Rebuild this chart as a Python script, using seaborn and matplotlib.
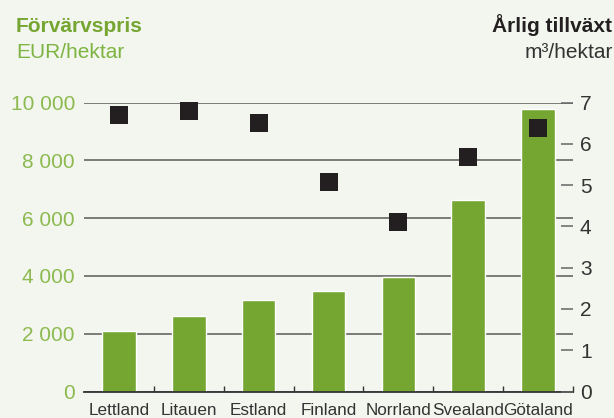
import matplotlib
matplotlib.use("Agg")
import matplotlib.pyplot as plt
import seaborn as sns
import pandas as pd
import numpy as np
from matplotlib.ticker import FuncFormatter, FixedLocator

# data
regions = ["Lettland", "Litauen", "Estland", "Finland", "Norrland", "Svealand", "Götaland"]
price_eur = [2080, 2600, 3160, 3480, 3970, 6630, 9780]      # EUR/hektar (bars)
growth_m3 = [6.70, 6.80, 6.51, 5.07, 4.10, 5.68, 6.39]      # m3/hektar (squares)
left_ticks = [0, 2000, 4000, 6000, 8000, 10000]
right_ticks = [0, 1, 2, 3, 4, 5, 6, 7]

bg = "#f3f6ee"
green = "#76a632"
label_green = "#8cba50"
dark = "#231f20"

sns.set_theme(style="white")
plt.rcParams["font.family"] = ["Liberation Sans", "DejaVu Sans"]

df = pd.DataFrame({"region": regions, "price": price_eur, "growth": growth_m3})

fig = plt.figure(figsize=(6.14, 4.18), dpi=100, facecolor=bg)
ax = fig.add_axes([84 / 614, 1 - 391.5 / 418, (573 - 84) / 614, (391.5 - 102.7) / 418])
ax.set_facecolor(bg)

sns.barplot(data=df, x="region", y="price", color=green, width=0.48,
            saturation=1, ax=ax, zorder=2)
ax.set_xlim(-0.5, 6.5)
ax.set_ylim(0, 10000)
ax.set_xlabel("")
ax.set_ylabel("")

# horizontal lines behind bars
ax.set_axisbelow(True)
ax.yaxis.set_major_locator(FixedLocator(left_ticks))
ax.grid(axis="y", color="#5a5a5a", linewidth=1.1)
ax.grid(axis="x", visible=False)
ax.yaxis.set_major_formatter(FuncFormatter(lambda v, p: f"{int(v):,}".replace(",", " ")))
ax.tick_params(axis="y", length=0, pad=6.5, labelsize=15, labelcolor=label_green)

# small ticks between categories on the base line
ax.xaxis.set_minor_locator(FixedLocator(np.arange(0.5, 7, 1)))
ax.tick_params(axis="x", which="major", length=0, pad=8, labelsize=12.3, labelcolor="#333333")
ax.tick_params(axis="x", which="minor", direction="in", length=4, width=1, color="#333333",
               bottom=True)

for s in ["left", "right", "top"]:
    ax.spines[s].set_visible(False)
ax.spines["bottom"].set_color("#333333")
ax.spines["bottom"].set_linewidth(1.3)

# right axis: annual growth
ax2 = ax.twinx()
sns.scatterplot(data=df, x="region", y="growth", marker="s", s=150, color=dark,
                linewidth=0, ax=ax2, zorder=3, clip_on=False)
ax2.set_ylim(0, 7)
ax2.set_xlim(-0.5, 6.5)
ax2.set_ylabel("")
ax2.yaxis.set_major_locator(FixedLocator(right_ticks))
ax2.tick_params(axis="y", direction="in", length=9, width=1.1, color="#666666",
                pad=5, labelsize=15, labelcolor="#333333")
ax2.grid(False)
for s in ["left", "right", "top", "bottom"]:
    ax2.spines[s].set_visible(False)

# headings
fig.text(16 / 614, 1 - 31.7 / 418, "Förvärvspris", color=green, fontsize=15,
         fontweight="bold", ha="left", va="baseline")
fig.text(16 / 614, 1 - 58 / 418, "EUR/hektar", color="#7db441", fontsize=15,
         ha="left", va="baseline")
fig.text(612.5 / 614, 1 - 31.7 / 418, "Årlig tillväxt", color=dark, fontsize=15,
         fontweight="bold", ha="right", va="baseline")
fig.text(612.5 / 614, 1 - 58 / 418, "m³/hektar", color="#333333", fontsize=15,
         ha="right", va="baseline")

fig.savefig("out.png", dpi=100, facecolor=bg)
